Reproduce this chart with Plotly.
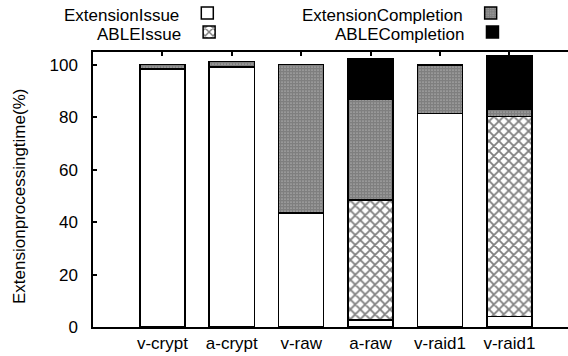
import plotly.graph_objects as go

categories = ["v-crypt", "a-crypt", "v-raw", "a-raw", "v-raid1", "v-raid1 "]
tick_labels = ["v-crypt", "a-crypt", "v-raw", "a-raw", "v-raid1", "v-raid1"]

extension_issue = [98.5, 99.2, 43.6, 2.7, 81.6, 4.0]
able_issue = [None, None, None, 45.8, None, 76.4]
extension_completion = [1.7, 2.2, 56.6, 38.5, 18.5, 2.8]
able_completion = [None, None, None, 15.6, None, 20.4]

FONT = "Liberation Sans"
FS = 17

series = [
    ("ExtensionIssue", extension_issue, dict(color="white"), "legend"),
    ("ABLEIssue", able_issue, dict(color="white", pattern=dict(shape="x", fgcolor="black", bgcolor="white", size=7, solidity=0.45)), "legend3"),
    ("ExtensionCompletion", extension_completion, dict(color="white", pattern=dict(shape=".", fgcolor="black", bgcolor="white", size=3, solidity=0.85)), "legend2"),
    ("ABLECompletion", able_completion, dict(color="black"), "legend4"),
]

fig = go.Figure()
for name, vals, marker, lg in series:
    marker = dict(marker)
    marker["line"] = dict(color="black", width=1.5)
    fig.add_trace(go.Bar(x=categories, y=vals, name=name, marker=marker, legend=lg))

def leg(title, xr, yc):
    return dict(
        title=dict(text=title, side="left", font=dict(family=FONT, size=FS, color="black")),
        xref="container", yref="container",
        x=xr / 568, y=1 - yc / 356, xanchor="right", yanchor="middle",
        bgcolor="rgba(0,0,0,0)", borderwidth=0,
        font=dict(size=1, color="rgba(0,0,0,0)"),
        itemwidth=30,
    )

fig.update_layout(
    width=568, height=356,
    margin=dict(l=93, r=0, t=52, b=29, autoexpand=False),
    paper_bgcolor="white", plot_bgcolor="white",
    barmode="stack", bargap=0.35,
    font=dict(family=FONT, size=FS, color="black"),
    showlegend=True,
    legend=leg("ExtensionIssue", 240, 15),
    legend3=leg("ABLEIssue", 240, 34),
    legend2=leg("ExtensionCompletion", 526, 15),
    legend4=leg("ABLECompletion", 526, 34),
    xaxis=dict(
        type="category", range=[-1, 5.845],
        tickvals=categories, ticktext=tick_labels,
        showline=True, linecolor="black", linewidth=1.5, mirror="ticks",
        ticks="inside", ticklen=4, tickcolor="black", tickwidth=1.5,
        showgrid=False, zeroline=False, layer="below traces",
        ticklabelstandoff=0, automargin=False,
    ),
    yaxis=dict(
        range=[0, 105], tickvals=[0, 20, 40, 60, 80, 100],
        showline=True, linecolor="black", linewidth=1.5,
        ticks="inside", ticklen=4, tickcolor="black", tickwidth=1.5,
        showgrid=False, zeroline=False, automargin=False,
        ticklabelstandoff=10,
    ),
    annotations=[dict(
        text="Extensionprocessingtime(%)", textangle=-90,
        xref="paper", yref="paper", x=(19 - 93) / 475, y=(327 - 197) / 275,
        xanchor="center", yanchor="middle", showarrow=False,
        font=dict(family=FONT, size=FS, color="black"),
    )],
)

fig.write_html("out.html")
